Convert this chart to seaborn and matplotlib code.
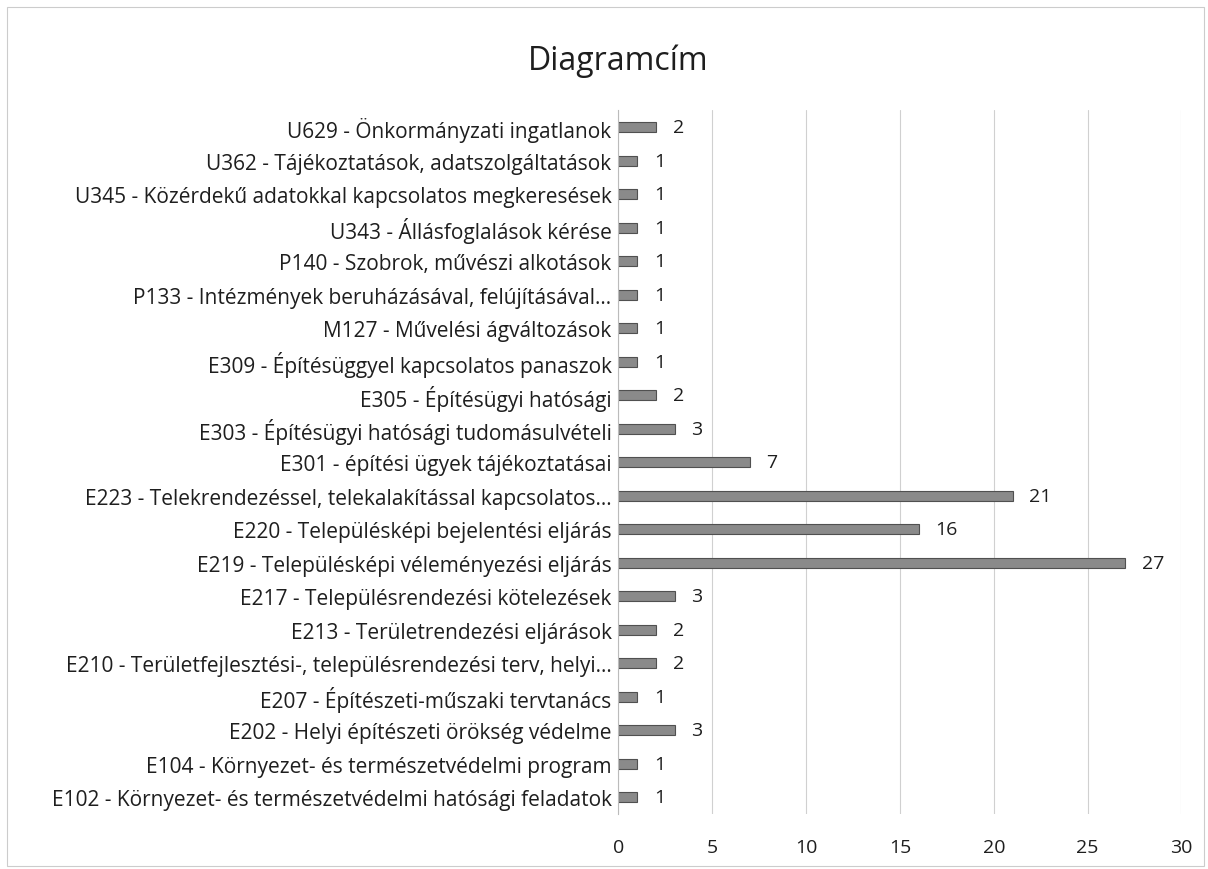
import matplotlib
matplotlib.use('Agg')
import matplotlib.pyplot as plt
import seaborn as sns
import pandas as pd

# ====================== DATA ======================
categories = [
    "U629 - Önkormányzati ingatlanok",
    "U362 - Tájékoztatások, adatszolgáltatások",
    "U345 - Közérdekű adatokkal kapcsolatos megkeresések",
    "U343 - Állásfoglalások kérése",
    "P140 - Szobrok, művészi alkotások",
    "P133 - Intézmények beruházásával, felújításával...",
    "M127 - Művelési ágváltozások",
    "E309 - Építésüggyel kapcsolatos panaszok",
    "E305 - Építésügyi hatósági",
    "E303 - Építésügyi hatósági tudomásulvételi",
    "E301 - építési ügyek tájékoztatásai",
    "E223 - Telekrendezéssel, telekalakítással kapcsolatos...",
    "E220 - Településképi bejelentési eljárás",
    "E219 - Településképi véleményezési eljárás",
    "E217 - Településrendezési kötelezések",
    "E213 - Területrendezési eljárások",
    "E210 - Területfejlesztési-, településrendezési terv, helyi...",
    "E207 - Építészeti-műszaki tervtanács",
    "E202 - Helyi építészeti örökség védelme",
    "E104 - Környezet- és természetvédelmi program",
    "E102 - Környezet- és természetvédelmi hatósági feladatok",
]
counts = [2, 1, 1, 1, 1, 1, 1, 1, 2, 3, 7, 21, 16, 27, 3, 2, 2, 1, 3, 1, 1]
x_ticks = [0, 5, 10, 15, 20, 25, 30]

df = pd.DataFrame({"kategoria": categories, "db": counts})

# ====================== PLOT ======================
sns.set_style("white")
plt.rcParams['font.family'] = ['Open Sans', 'DejaVu Sans']

fig = plt.figure(figsize=(12.08, 8.7), dpi=100)
ax = fig.add_axes([0.512, 0.063, 0.466, 0.809])

sns.barplot(data=df, x="db", y="kategoria", color="#8a8a8a", width=0.3,
            edgecolor="#505050", linewidth=0.8, ax=ax)

for cont in ax.containers:
    ax.bar_label(cont, padding=12, fontsize=14, color="#1e1e1e")

ax.set_xlim(0, 30)
ax.set_xticks(x_ticks)
ax.tick_params(axis='x', labelsize=14, colors="#1e1e1e", length=0, pad=17)
ax.tick_params(axis='y', labelsize=15, colors="#1e1e1e", length=0, pad=5)
ax.set_xlabel("")
ax.set_ylabel("")
ax.xaxis.grid(True, color="#d0d0d0", linewidth=0.8)
ax.set_axisbelow(True)
for s in ["top", "right", "bottom"]:
    ax.spines[s].set_visible(False)
ax.spines["left"].set_color("#bbbbbb")
ax.spines["left"].set_linewidth(0.8)

fig.text(0.512, 0.93, "Diagramcím", ha="center", va="center", fontsize=23, color="#1e1e1e")

# chart frame
frame = plt.Rectangle((0.006, 0.003), 0.991, 0.988, transform=fig.transFigure,
                      fill=False, edgecolor="#cccccc", linewidth=0.8)
fig.patches.append(frame)

fig.savefig("out.png", dpi=100)
